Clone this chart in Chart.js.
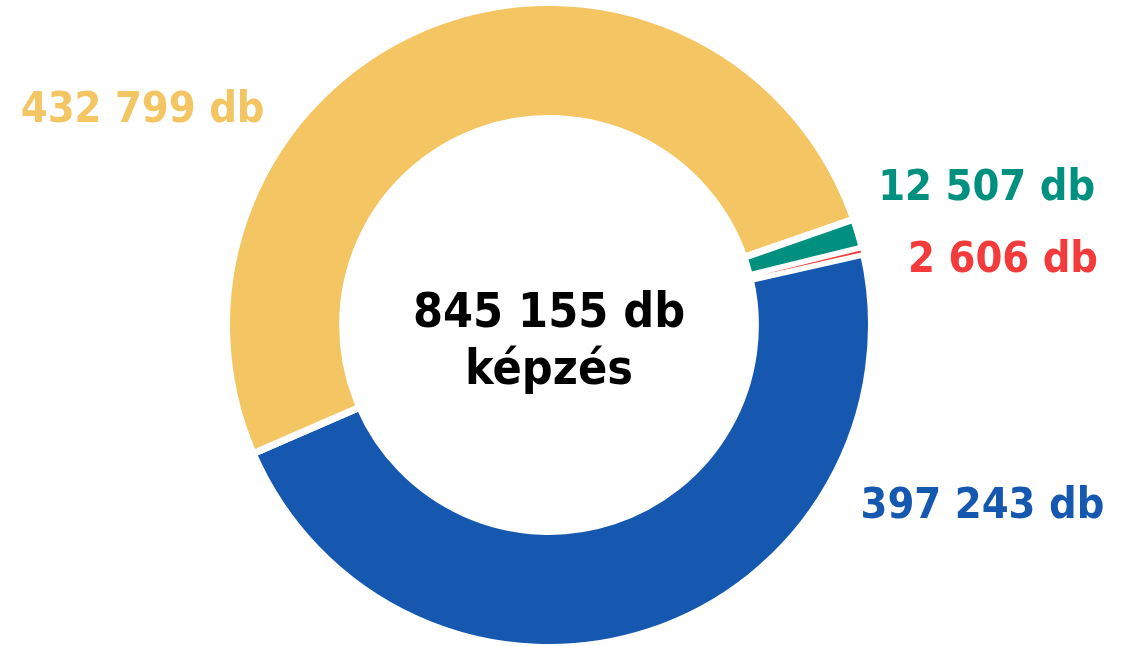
<!DOCTYPE html>
<html>
<head>
<meta charset="utf-8">
<script src="https://cdn.jsdelivr.net/npm/chart.js@4.4.1/dist/chart.umd.min.js"></script>
<style>
  html, body { margin: 0; padding: 0; background: #fff; overflow: hidden; }
  #wrap { position: absolute; left: 0; top: -1px; width: 1130px; height: 652px; }
</style>
</head>
<body>
<div id="wrap"><canvas id="chart"></canvas></div>
<script>
// slices, clockwise from the right side
const categories = ['kék', 'sárga', 'zöld', 'piros'];
const values = [397243, 432799, 12507, 2606];
const colors = ['#1658B0', '#F4C563', '#00907F', '#F23B3A'];
const centerLines = ['845 155 db', 'képzés'];

// where each value label sits, relative to the doughnut centre (in outer radii)
const labelPos = [[1.344, 0.552], [-1.26, -0.676], [1.357, -0.434], [1.408, -0.211]];

const FONT = '"DejaVu Sans Condensed", "DejaVu Sans", sans-serif';

function fmt(n) {
    return String(n).replace(/\B(?=(\d{3})+(?!\d))/g, ' ') + ' db';
}

const labelPlugin = {
    id: 'labels',
    afterDraw(chart) {
        const ctx = chart.ctx;
        const arc = chart.getDatasetMeta(0).data[0];
        const cx = arc.x, cy = arc.y, r = arc.outerRadius;
        ctx.save();
        ctx.textAlign = 'center';
        ctx.textBaseline = 'alphabetic';

        ctx.font = 'bold 43px ' + FONT;
        values.forEach((v, i) => {
            ctx.fillStyle = colors[i];
            ctx.fillText(fmt(v), cx + labelPos[i][0] * r, cy + labelPos[i][1] * r + 15);
        });

        ctx.fillStyle = '#000';
        ctx.font = 'bold 48px ' + FONT;
        ctx.fillText(centerLines[0], cx, cy + 2);
        ctx.fillText(centerLines[1], cx, cy + 59);
        ctx.restore();
    }
};

new Chart(document.getElementById('chart'), {
    type: 'doughnut',
    data: {
        labels: categories,
        datasets: [{
            data: values,
            backgroundColor: colors,
            borderColor: '#fff',
            borderWidth: [7, 7, 7, 4.2]
        }]
    },
    options: {
        responsive: true,
        maintainAspectRatio: false,
        animation: false,
        rotation: 77.3,
        cutout: '64%',
        layout: { padding: { top: 0, bottom: 0, left: 0, right: 32 } },
        plugins: {
            legend: { display: false },
            tooltip: { enabled: false }
        }
    },
    plugins: [labelPlugin]
});
</script>
</body>
</html>
